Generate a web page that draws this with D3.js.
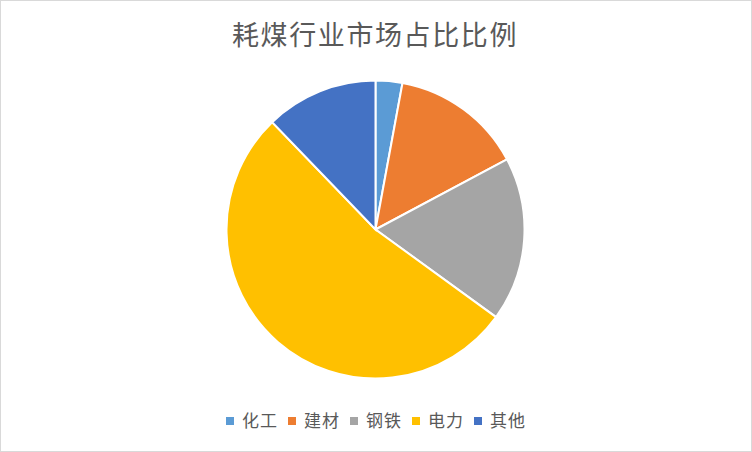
<!DOCTYPE html>
<html>
<head>
<meta charset="utf-8">
<script src="https://cdn.jsdelivr.net/npm/d3@7"></script>
<style>
  body { margin: 0; background: #fff; }
  text { font-family: "Noto Sans CJK SC", sans-serif; }
</style>
</head>
<body>
<div id="chart"></div>
<script>
// data (percent)
const categories = ['化工', '建材', '钢铁', '电力', '其他'];
const values = [2.9, 14.3, 17.8, 52.8, 12.2];
const colors = ['#5B9BD5', '#ED7D31', '#A5A5A5', '#FFC000', '#4472C4'];
const title = '耗煤行业市场占比比例';

const width = 752, height = 452;
const cx = 375.5, cy = 229.5, radius = 149;

const svg = d3.select('#chart').append('svg')
    .attr('width', width)
    .attr('height', height);

// chart border
svg.append('rect')
    .attr('x', 0.5).attr('y', 0.5)
    .attr('width', width - 1).attr('height', height - 1)
    .attr('fill', '#fff')
    .attr('stroke', '#d9d9d9');

svg.append('text')
    .attr('x', 375)
    .attr('y', 45)
    .attr('text-anchor', 'middle')
    .attr('font-size', 27)
    .attr('letter-spacing', 1.6)
    .attr('fill', '#595959')
    .text(title);

const color = d3.scaleOrdinal().domain(categories).range(colors);

const pie = d3.pie().sort(null).value(d => d.value);
const arc = d3.arc().innerRadius(0).outerRadius(radius);

const data = categories.map((c, i) => ({ name: c, value: values[i] }));

svg.append('g')
    .attr('transform', `translate(${cx},${cy})`)
    .selectAll('path')
    .data(pie(data))
    .join('path')
    .attr('d', arc)
    .attr('fill', d => color(d.data.name))
    .attr('stroke', '#fff')
    .attr('stroke-width', 2);

// legend
const legend = svg.append('g').attr('transform', 'translate(226,421)');
const item = legend.selectAll('g')
    .data(categories)
    .join('g')
    .attr('transform', (d, i) => `translate(${i * 62},0)`);

item.append('rect')
    .attr('x', 0).attr('y', -4)
    .attr('width', 8).attr('height', 8)
    .attr('fill', d => color(d));

item.append('text')
    .attr('x', 16)
    .attr('y', 6)
    .attr('font-size', 17)
    .attr('letter-spacing', 1)
    .attr('fill', '#595959')
    .text(d => d);
</script>
</body>
</html>
